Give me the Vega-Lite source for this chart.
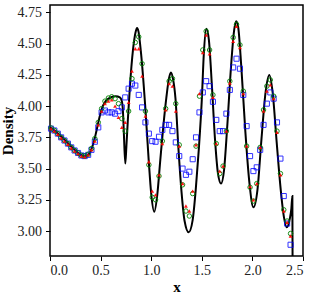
{
  "$schema": "https://vega.github.io/schema/vega-lite/v6.json",
  "autosize": "none",
  "width": 253,
  "height": 251,
  "padding": {"left": 50, "top": 5, "right": 9, "bottom": 40},
  "background": "white",
  "config": {
    "view": {"stroke": "black", "strokeWidth": 1.5},
    "axis": {
      "domain": false, "grid": false,
      "tickColor": "black", "tickSize": 4.5, "tickWidth": 1,
      "labelFont": "Liberation Serif", "labelFontSize": 14, "labelColor": "#222",
      "titleFont": "Liberation Serif", "titleFontSize": 15, "titleFontWeight": "bold", "titleColor": "black"
    }
  },
  "datasets": {
    "ref": [
      {"x": 0.00, "y": 3.83}, {"x": 0.05, "y": 3.80}, {"x": 0.10, "y": 3.765}, {"x": 0.15, "y": 3.725},
      {"x": 0.20, "y": 3.685}, {"x": 0.25, "y": 3.645}, {"x": 0.30, "y": 3.612}, {"x": 0.34, "y": 3.598},
      {"x": 0.38, "y": 3.612}, {"x": 0.42, "y": 3.68}, {"x": 0.45, "y": 3.77}, {"x": 0.48, "y": 3.88},
      {"x": 0.51, "y": 3.975}, {"x": 0.55, "y": 4.04}, {"x": 0.60, "y": 4.07}, {"x": 0.65, "y": 4.08},
      {"x": 0.69, "y": 4.07}, {"x": 0.71, "y": 4.04}, {"x": 0.72, "y": 3.97}, {"x": 0.73, "y": 3.78},
      {"x": 0.744, "y": 3.54}, {"x": 0.755, "y": 3.68}, {"x": 0.77, "y": 3.90}, {"x": 0.79, "y": 4.16},
      {"x": 0.82, "y": 4.45}, {"x": 0.845, "y": 4.59}, {"x": 0.86, "y": 4.625}, {"x": 0.875, "y": 4.595},
      {"x": 0.90, "y": 4.42}, {"x": 0.94, "y": 4.01}, {"x": 0.975, "y": 3.57}, {"x": 1.00, "y": 3.30},
      {"x": 1.03, "y": 3.155}, {"x": 1.06, "y": 3.29}, {"x": 1.09, "y": 3.57}, {"x": 1.12, "y": 3.84},
      {"x": 1.15, "y": 4.07}, {"x": 1.175, "y": 4.22}, {"x": 1.195, "y": 4.27}, {"x": 1.215, "y": 4.22},
      {"x": 1.24, "y": 4.06}, {"x": 1.27, "y": 3.65}, {"x": 1.30, "y": 3.31}, {"x": 1.33, "y": 3.08},
      {"x": 1.37, "y": 2.99}, {"x": 1.41, "y": 3.09}, {"x": 1.44, "y": 3.33}, {"x": 1.47, "y": 3.65},
      {"x": 1.50, "y": 4.05}, {"x": 1.52, "y": 4.42}, {"x": 1.545, "y": 4.62}, {"x": 1.57, "y": 4.53},
      {"x": 1.60, "y": 4.16}, {"x": 1.63, "y": 3.74}, {"x": 1.66, "y": 3.46}, {"x": 1.69, "y": 3.38},
      {"x": 1.72, "y": 3.49}, {"x": 1.75, "y": 3.82}, {"x": 1.79, "y": 4.33}, {"x": 1.82, "y": 4.61},
      {"x": 1.84, "y": 4.68}, {"x": 1.86, "y": 4.63}, {"x": 1.89, "y": 4.32}, {"x": 1.93, "y": 3.80},
      {"x": 1.97, "y": 3.39}, {"x": 2.01, "y": 3.19}, {"x": 2.05, "y": 3.33}, {"x": 2.09, "y": 3.74},
      {"x": 2.13, "y": 4.11}, {"x": 2.167, "y": 4.25}, {"x": 2.20, "y": 4.11}, {"x": 2.24, "y": 3.71},
      {"x": 2.28, "y": 3.33}, {"x": 2.31, "y": 3.12}, {"x": 2.34, "y": 3.03}, {"x": 2.37, "y": 3.10},
      {"x": 2.385, "y": 3.18}, {"x": 2.395, "y": 3.28}, {"x": 2.398, "y": 2.5}
    ],
    "blue": [
      {"x": 0.010, "y": 3.82}, {"x": 0.043, "y": 3.805}, {"x": 0.077, "y": 3.78}, {"x": 0.110, "y": 3.75},
      {"x": 0.143, "y": 3.725}, {"x": 0.177, "y": 3.70}, {"x": 0.210, "y": 3.67}, {"x": 0.243, "y": 3.645},
      {"x": 0.277, "y": 3.625}, {"x": 0.310, "y": 3.605}, {"x": 0.343, "y": 3.60}, {"x": 0.377, "y": 3.61},
      {"x": 0.410, "y": 3.65}, {"x": 0.443, "y": 3.715}, {"x": 0.477, "y": 3.83}, {"x": 0.510, "y": 3.95},
      {"x": 0.543, "y": 3.965}, {"x": 0.577, "y": 3.95}, {"x": 0.610, "y": 3.95}, {"x": 0.643, "y": 3.94},
      {"x": 0.677, "y": 3.96}, {"x": 0.710, "y": 3.99}, {"x": 0.743, "y": 4.07}, {"x": 0.777, "y": 4.14},
      {"x": 0.810, "y": 4.18}, {"x": 0.843, "y": 4.165}, {"x": 0.877, "y": 4.09}, {"x": 0.910, "y": 3.99},
      {"x": 0.943, "y": 3.87}, {"x": 0.977, "y": 3.78}, {"x": 1.010, "y": 3.72}, {"x": 1.043, "y": 3.715},
      {"x": 1.077, "y": 3.755}, {"x": 1.110, "y": 3.81}, {"x": 1.143, "y": 3.85}, {"x": 1.177, "y": 3.85},
      {"x": 1.210, "y": 3.80}, {"x": 1.243, "y": 3.71}, {"x": 1.277, "y": 3.60}, {"x": 1.310, "y": 3.50},
      {"x": 1.343, "y": 3.45}, {"x": 1.377, "y": 3.475}, {"x": 1.410, "y": 3.575}, {"x": 1.443, "y": 3.75},
      {"x": 1.477, "y": 3.95}, {"x": 1.510, "y": 4.11}, {"x": 1.543, "y": 4.20}, {"x": 1.577, "y": 4.16},
      {"x": 1.610, "y": 4.035}, {"x": 1.643, "y": 3.89}, {"x": 1.677, "y": 3.80}, {"x": 1.710, "y": 3.80},
      {"x": 1.743, "y": 3.94}, {"x": 1.777, "y": 4.13}, {"x": 1.810, "y": 4.31}, {"x": 1.843, "y": 4.38},
      {"x": 1.877, "y": 4.30}, {"x": 1.910, "y": 4.09}, {"x": 1.943, "y": 3.84}, {"x": 1.977, "y": 3.60},
      {"x": 2.010, "y": 3.48}, {"x": 2.043, "y": 3.51}, {"x": 2.077, "y": 3.65}, {"x": 2.110, "y": 3.85},
      {"x": 2.143, "y": 4.02}, {"x": 2.177, "y": 4.11}, {"x": 2.210, "y": 4.06}, {"x": 2.243, "y": 3.87},
      {"x": 2.277, "y": 3.58}, {"x": 2.310, "y": 3.28}, {"x": 2.343, "y": 3.06}, {"x": 2.377, "y": 2.89}
    ],
    "green": [
      {"x": 0.010, "y": 3.825}, {"x": 0.043, "y": 3.805}, {"x": 0.077, "y": 3.78}, {"x": 0.110, "y": 3.75},
      {"x": 0.143, "y": 3.725}, {"x": 0.177, "y": 3.70}, {"x": 0.210, "y": 3.67}, {"x": 0.243, "y": 3.645},
      {"x": 0.277, "y": 3.625}, {"x": 0.310, "y": 3.605}, {"x": 0.343, "y": 3.60}, {"x": 0.377, "y": 3.615},
      {"x": 0.410, "y": 3.66}, {"x": 0.443, "y": 3.74}, {"x": 0.477, "y": 3.87}, {"x": 0.510, "y": 3.98},
      {"x": 0.543, "y": 4.04}, {"x": 0.577, "y": 4.065}, {"x": 0.610, "y": 4.075}, {"x": 0.643, "y": 4.06},
      {"x": 0.677, "y": 4.02}, {"x": 0.710, "y": 3.90}, {"x": 0.743, "y": 3.80}, {"x": 0.777, "y": 3.96},
      {"x": 0.810, "y": 4.22}, {"x": 0.843, "y": 4.51}, {"x": 0.877, "y": 4.555}, {"x": 0.910, "y": 4.34},
      {"x": 0.943, "y": 3.96}, {"x": 0.977, "y": 3.53}, {"x": 1.010, "y": 3.27}, {"x": 1.043, "y": 3.25},
      {"x": 1.077, "y": 3.44}, {"x": 1.110, "y": 3.72}, {"x": 1.143, "y": 3.98}, {"x": 1.177, "y": 4.20},
      {"x": 1.210, "y": 4.22}, {"x": 1.243, "y": 4.02}, {"x": 1.277, "y": 3.69}, {"x": 1.310, "y": 3.37},
      {"x": 1.343, "y": 3.16}, {"x": 1.377, "y": 3.12}, {"x": 1.410, "y": 3.30}, {"x": 1.443, "y": 3.68},
      {"x": 1.477, "y": 4.08}, {"x": 1.510, "y": 4.45}, {"x": 1.543, "y": 4.60}, {"x": 1.577, "y": 4.45},
      {"x": 1.610, "y": 4.09}, {"x": 1.643, "y": 3.70}, {"x": 1.677, "y": 3.46}, {"x": 1.710, "y": 3.52},
      {"x": 1.743, "y": 3.80}, {"x": 1.777, "y": 4.20}, {"x": 1.810, "y": 4.55}, {"x": 1.843, "y": 4.655},
      {"x": 1.877, "y": 4.49}, {"x": 1.910, "y": 4.12}, {"x": 1.943, "y": 3.68}, {"x": 1.977, "y": 3.35},
      {"x": 2.010, "y": 3.24}, {"x": 2.043, "y": 3.38}, {"x": 2.077, "y": 3.67}, {"x": 2.110, "y": 3.97},
      {"x": 2.143, "y": 4.16}, {"x": 2.177, "y": 4.21}, {"x": 2.210, "y": 4.08}, {"x": 2.243, "y": 3.80},
      {"x": 2.277, "y": 3.46}, {"x": 2.310, "y": 3.17}, {"x": 2.343, "y": 3.08}, {"x": 2.377, "y": 2.98}
    ],
    "red": [
      {"x": 0.010, "y": 3.82}, {"x": 0.043, "y": 3.80}, {"x": 0.077, "y": 3.775}, {"x": 0.110, "y": 3.745},
      {"x": 0.143, "y": 3.72}, {"x": 0.177, "y": 3.695}, {"x": 0.210, "y": 3.665}, {"x": 0.243, "y": 3.64},
      {"x": 0.277, "y": 3.62}, {"x": 0.310, "y": 3.60}, {"x": 0.343, "y": 3.595}, {"x": 0.377, "y": 3.61},
      {"x": 0.410, "y": 3.65}, {"x": 0.443, "y": 3.72}, {"x": 0.477, "y": 3.85}, {"x": 0.510, "y": 3.96},
      {"x": 0.543, "y": 4.02}, {"x": 0.577, "y": 4.04}, {"x": 0.610, "y": 4.05}, {"x": 0.643, "y": 4.00},
      {"x": 0.677, "y": 3.91}, {"x": 0.710, "y": 3.83}, {"x": 0.743, "y": 3.87}, {"x": 0.777, "y": 4.03},
      {"x": 0.810, "y": 4.28}, {"x": 0.843, "y": 4.46}, {"x": 0.877, "y": 4.46}, {"x": 0.910, "y": 4.24},
      {"x": 0.943, "y": 3.92}, {"x": 0.977, "y": 3.555}, {"x": 1.010, "y": 3.32}, {"x": 1.043, "y": 3.29},
      {"x": 1.077, "y": 3.45}, {"x": 1.110, "y": 3.70}, {"x": 1.143, "y": 3.97}, {"x": 1.177, "y": 4.18},
      {"x": 1.210, "y": 4.16}, {"x": 1.243, "y": 3.96}, {"x": 1.277, "y": 3.68}, {"x": 1.310, "y": 3.38},
      {"x": 1.343, "y": 3.20}, {"x": 1.377, "y": 3.16}, {"x": 1.410, "y": 3.32}, {"x": 1.443, "y": 3.69},
      {"x": 1.477, "y": 4.10}, {"x": 1.510, "y": 4.43}, {"x": 1.543, "y": 4.57}, {"x": 1.577, "y": 4.42},
      {"x": 1.610, "y": 4.07}, {"x": 1.643, "y": 3.70}, {"x": 1.677, "y": 3.48}, {"x": 1.710, "y": 3.52},
      {"x": 1.743, "y": 3.80}, {"x": 1.777, "y": 4.185}, {"x": 1.810, "y": 4.52}, {"x": 1.843, "y": 4.64},
      {"x": 1.877, "y": 4.47}, {"x": 1.910, "y": 4.10}, {"x": 1.943, "y": 3.68}, {"x": 1.977, "y": 3.355},
      {"x": 2.010, "y": 3.25}, {"x": 2.043, "y": 3.38}, {"x": 2.077, "y": 3.67}, {"x": 2.110, "y": 3.96},
      {"x": 2.143, "y": 4.12}, {"x": 2.177, "y": 4.17}, {"x": 2.210, "y": 4.06}, {"x": 2.243, "y": 3.79},
      {"x": 2.277, "y": 3.45}, {"x": 2.310, "y": 3.16}, {"x": 2.343, "y": 3.07}, {"x": 2.377, "y": 2.96}
    ]
  },
  "encoding": {
    "x": {"field": "x", "type": "quantitative", "title": "x",
          "scale": {"domain": [0, 2.5], "nice": false, "zero": false},
          "axis": {"values": [0, 0.5, 1, 1.5, 2, 2.5], "format": ".1f", "labelPadding": 3, "titlePadding": 2}},
    "y": {"field": "y", "type": "quantitative", "title": "Density",
          "scale": {"domain": [2.8, 4.81], "nice": false, "zero": false},
          "axis": {"values": [3.0, 3.25, 3.5, 3.75, 4.0, 4.25, 4.5, 4.75], "format": ".2f", "labelPadding": 4, "titlePadding": 2}}
  },
  "layer": [
    {"data": {"name": "ref"}, "mark": {"type": "line", "color": "black", "strokeWidth": 2, "interpolate": "monotone", "clip": true}},
    {"data": {"name": "blue"}, "mark": {"type": "point", "shape": "square", "filled": false, "color": "#0000ff", "size": 26, "strokeWidth": 1, "opacity": 0.8}},
    {"data": {"name": "green"}, "mark": {"type": "point", "shape": "circle", "filled": false, "color": "#008000", "size": 20, "strokeWidth": 1, "opacity": 0.9}},
    {"data": {"name": "red"}, "mark": {"type": "point", "shape": "triangle-up", "filled": true, "color": "#ff0000", "size": 15, "strokeWidth": 0, "opacity": 0.9}}
  ]
}
